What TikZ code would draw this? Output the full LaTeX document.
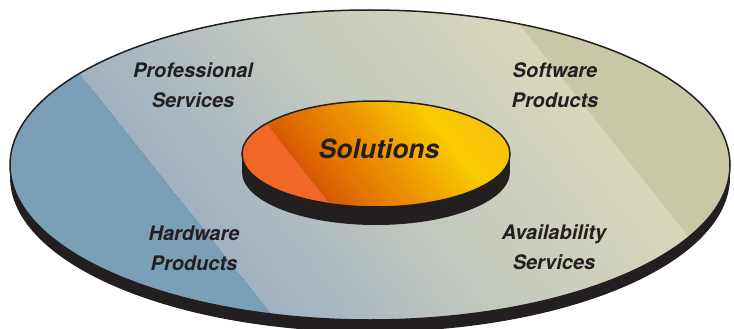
\documentclass[tikz,border=0pt]{standalone}
\usepackage{fontspec}
\setmainfont{TeX Gyre Heros}

\definecolor{bandblue}{RGB}{122,159,182}
\definecolor{ringA}{RGB}{160,177,193}
\definecolor{ringB}{RGB}{196,201,190}
\definecolor{ringC}{RGB}{216,215,186}
\definecolor{bandtan}{RGB}{200,199,166}
\definecolor{coreband}{RGB}{242,102,38}
\definecolor{coreA}{RGB}{216,90,6}
\definecolor{coreB}{RGB}{236,140,0}
\definecolor{coreC}{RGB}{248,204,0}
\definecolor{coreD}{RGB}{250,190,18}
\definecolor{rim}{RGB}{35,31,32}

% one stretch of the diagonal gradient, as thin strips
\newcommand{\gradseg}[4]{%
  \foreach \k in {0,...,19}{%
    \pgfmathsetmacro\stripa{#1+(#2-#1)*\k/20}%
    \pgfmathsetmacro\stripb{#1+(#2-#1)*(\k+1)/20+0.8}%
    \pgfmathtruncatemacro\mixpct{round(100-100*\k/19)}%
    \fill[#3!\mixpct!#4] (\stripa,-700) -- (\stripb,-700) -- (\stripb,700) -- (\stripa,700) -- cycle;
  }}

\tikzset{
  ringlabel/.style={font=\fontsize{20}{30}\selectfont\bfseries\itshape, text=rim, align=center},
  corelabel/.style={font=\fontsize{26.5}{30}\selectfont\bfseries\itshape, text=rim},
  diagframe/.style={shift={(#1)}, x={(0.782pt,0.623pt)}, y={(0.623pt,-0.782pt)}}
}

\begin{document}
\begin{tikzpicture}[x=1pt,y=-1pt]
\useasboundingbox (0,0) rectangle (734,329);

% outer disc
\fill[rim] (370,177) ellipse [x radius=360, y radius=155];
\fill[rim] (10,165) rectangle (730,177);
\begin{scope}
  \clip (370,165) ellipse [x radius=360, y radius=155];
  \begin{scope}[diagframe={82,77}]
    \gradseg{0}{187}{ringA}{ringB}
    \gradseg{187}{375}{ringB}{ringC}
    \fill[bandblue] (-900,-700) -- (0,-700) -- (0,700) -- (-900,700) -- cycle;
    \fill[bandtan] (375,-700) -- (1200,-700) -- (1200,700) -- (375,700) -- cycle;
  \end{scope}
\end{scope}
\draw[rim, line width=1.5pt] (370,165) ellipse [x radius=360, y radius=155];

% inner disc
\fill[rim] (376,172) ellipse [x radius=134, y radius=53];
\fill[rim] (242,154) rectangle (510,172);
\begin{scope}
  \clip (376,154) ellipse [x radius=134, y radius=53];
  \begin{scope}[diagframe={265,122}]
    \gradseg{0}{62}{coreA}{coreB}
    \gradseg{62}{133}{coreB}{coreC}
    \gradseg{133}{185}{coreC}{coreD}
    \fill[coreband] (-600,-700) -- (0,-700) -- (0,700) -- (-600,700) -- cycle;
  \end{scope}
\end{scope}
\draw[rim, line width=1.5pt] (376,154) ellipse [x radius=134, y radius=53];

% labels
\node[ringlabel] (prof) at (193,85) {Professional\\Services};
\node[ringlabel] (soft) at (555,85) {Software\\Products};
\node[ringlabel] (hard) at (194,248) {Hardware\\Products};
\node[ringlabel] (avail) at (554,247) {Availability\\Services};
\node[corelabel] (sol) at (379,149) {Solutions};
\end{tikzpicture}
\end{document}
